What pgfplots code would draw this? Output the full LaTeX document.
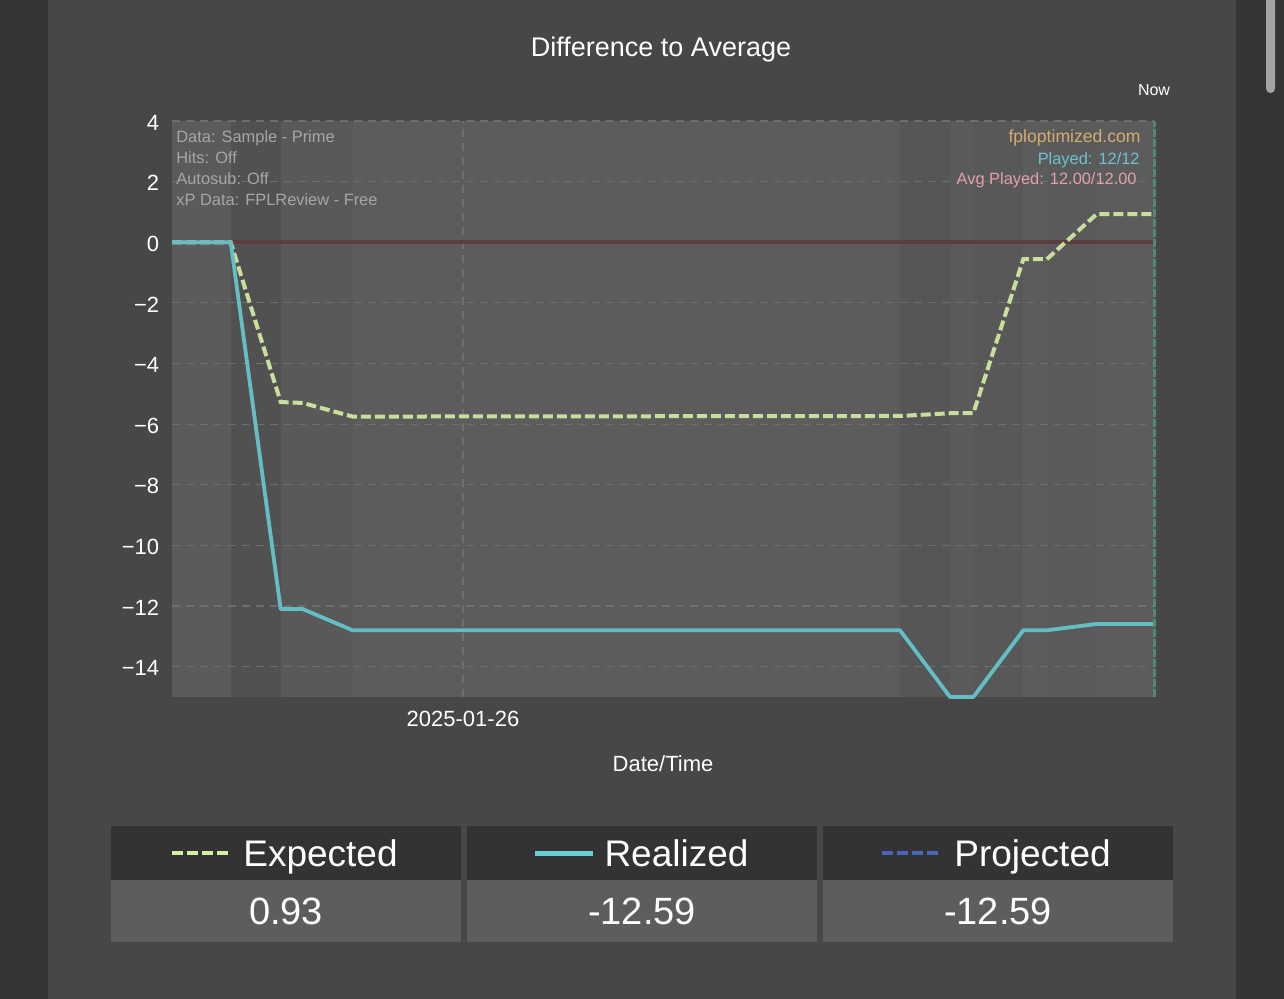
\documentclass[border=0pt]{standalone}
\usepackage{fontspec}
\setmainfont{Liberation Sans}
\usepackage{pgfplots}
\usepackage{pgfplotstable}
\pgfplotsset{compat=1.18}
\definecolor{outer}{HTML}{333436}
\definecolor{panel}{HTML}{474747}
\definecolor{plotbg}{HTML}{5B5B5B}
\definecolor{gridc}{HTML}{6E6E6E}
\definecolor{expc}{HTML}{C8DF9C}
\definecolor{realc}{HTML}{63BEC6}
\definecolor{zeroc}{HTML}{5E3D3F}
\definecolor{nowc}{HTML}{4E8A78}
\definecolor{hdr}{HTML}{333335}
\definecolor{valbg}{HTML}{5C5D5C}
\definecolor{annot}{HTML}{A6A6A6}
\definecolor{fplc}{HTML}{D6AC70}
\definecolor{playc}{HTML}{6CC4D2}
\definecolor{avgc}{HTML}{E2A1AA}
\definecolor{projc}{HTML}{4A64B6}
\definecolor{legexp}{HTML}{D2EFA2}
\definecolor{legreal}{HTML}{6ACFD6}
\definecolor{scroll}{HTML}{A3A3A3}
\definecolor{bA}{HTML}{515151}
\definecolor{bB}{HTML}{595959}
\definecolor{bC}{HTML}{5C5C5C}
\definecolor{bD}{HTML}{565656}
\definecolor{bE}{HTML}{5A5A5A}
\definecolor{bF}{HTML}{585858}

\pgfplotstableread{
x y
0 0
58.7 0
108.7 -5.27
130.7 -5.30
180.7 -5.75
728 -5.73
778 -5.64
801.3 -5.64
851.3 -0.56
874.7 -0.56
924.7 0.93
983 0.93
}\expected

\pgfplotstableread{
x y
0 0
58.7 0
108.7 -12.10
130.7 -12.10
180.7 -12.80
728 -12.80
778 -15.00
801.3 -15.00
851.3 -12.80
874.7 -12.80
924.7 -12.59
983 -12.59
}\realized

\begin{document}
\begin{tikzpicture}
\begin{scope}[x=0.5pt,y=-0.5pt]
\useasboundingbox (0,0) rectangle (1284,999);
\fill[outer] (0,0) rectangle (1284,999);
\fill[panel] (48,0) rectangle (1236,999);
\fill[scroll, rounded corners=2.2pt] (1266,-10) rectangle (1275,93);
% legend table
\fill[hdr] (111,826) rectangle (461,880);
\fill[valbg] (111,880) rectangle (461,942);
\fill[hdr] (467,826) rectangle (817,880);
\fill[valbg] (467,880) rectangle (817,942);
\fill[hdr] (823,826) rectangle (1173,880);
\fill[valbg] (823,880) rectangle (1173,942);
\draw[legexp, line width=2pt, dash pattern=on 5.5pt off 2pt] (172,853) -- (228,853);
\draw[legreal, line width=2.5pt] (535,853) -- (593,853);
\draw[projc, line width=2pt, dash pattern=on 5.5pt off 2pt] (882,853) -- (941,853);
\node[white, anchor=base, font=\fontsize{18.5}{22}\selectfont, inner sep=0pt] at (320.5,866) {Expected};
\node[white, anchor=base, font=\fontsize{18.5}{22}\selectfont, inner sep=0pt] at (676.5,866) {Realized};
\node[white, anchor=base, font=\fontsize{18.5}{22}\selectfont, inner sep=0pt] at (1032.5,866) {Projected};
\node[white, anchor=base, font=\fontsize{19}{22}\selectfont, inner sep=0pt] at (286,924) {0.93};
\node[white, anchor=base, font=\fontsize{19}{22}\selectfont, inner sep=0pt] at (642,924) {-12.59};
\node[white, anchor=base, font=\fontsize{19}{22}\selectfont, inner sep=0pt] at (998,924) {-12.59};
% titles
\node[white, anchor=base, font=\fontsize{13.5}{16}\selectfont, inner sep=0pt] at (661,57) {Difference to Average};
\node[white, anchor=base, font=\fontsize{8}{10}\selectfont, inner sep=0pt] at (1154,96) {Now};
\node[white, anchor=base, font=\fontsize{11}{13}\selectfont, inner sep=0pt] at (663,771) {Date/Time};
\end{scope}

\begin{axis}[
  at={(86pt,-348.5pt)}, anchor=south west,
  scale only axis, width=491.5pt, height=288pt,
  xmin=0, xmax=983, ymin=-15, ymax=4,
  axis line style={draw=none},
  major tick length=0pt,
  ytick={-14,-12,-10,-8,-6,-4,-2,0,2,4},
  yticklabels={−14,−12,−10,−8,−6,−4,−2,0,2,4},
  xtick={291}, xticklabels={2025-01-26},
  tick label style={white, font=\fontsize{11}{13}\selectfont},
  yticklabel style={xshift=-2.9pt, yshift=-0.8pt},
  xticklabel style={yshift=-3.6pt},
  axis background/.style={fill=plotbg},
  clip=false,
]
% vertical bands
\addplot[fill=bA, draw=none] coordinates {(58.7,-15)(58.7,4)(108.7,4)(108.7,-15)} -- cycle;
\addplot[fill=bB, draw=none] coordinates {(108.7,-15)(108.7,4)(180.7,4)(180.7,-15)} -- cycle;
\addplot[fill=bC, draw=none] coordinates {(180.7,-15)(180.7,4)(728,4)(728,-15)} -- cycle;
\addplot[fill=bD, draw=none] coordinates {(728,-15)(728,4)(778,4)(778,-15)} -- cycle;
\addplot[fill=bE, draw=none] coordinates {(778,-15)(778,4)(801.3,4)(801.3,-15)} -- cycle;
\addplot[fill=bF, draw=none] coordinates {(801.3,-15)(801.3,4)(851.3,4)(851.3,-15)} -- cycle;
\addplot[fill=bC, draw=none] coordinates {(851.3,-15)(851.3,4)(874.7,4)(874.7,-15)} -- cycle;
\addplot[fill=bE, draw=none] coordinates {(874.7,-15)(874.7,4)(924.7,4)(924.7,-15)} -- cycle;
\addplot[fill=bC, draw=none] coordinates {(924.7,-15)(924.7,4)(983,4)(983,-15)} -- cycle;
% grid
\addplot[gridc, line width=0.6pt, dash pattern=on 4pt off 3pt] coordinates {(0,-14)(982,-14)};
\addplot[gridc, line width=0.6pt, dash pattern=on 4pt off 3pt] coordinates {(0,-12)(982,-12)};
\addplot[gridc, line width=0.6pt, dash pattern=on 4pt off 3pt] coordinates {(0,-10)(982,-10)};
\addplot[gridc, line width=0.6pt, dash pattern=on 4pt off 3pt] coordinates {(0,-8)(982,-8)};
\addplot[gridc, line width=0.6pt, dash pattern=on 4pt off 3pt] coordinates {(0,-6)(982,-6)};
\addplot[gridc, line width=0.6pt, dash pattern=on 4pt off 3pt] coordinates {(0,-4)(982,-4)};
\addplot[gridc, line width=0.6pt, dash pattern=on 4pt off 3pt] coordinates {(0,-2)(982,-2)};
\addplot[gridc, line width=0.6pt, dash pattern=on 4pt off 3pt] coordinates {(0,0)(982,0)};
\addplot[gridc, line width=0.6pt, dash pattern=on 4pt off 3pt] coordinates {(0,2)(982,2)};
\addplot[gridc, line width=0.6pt, dash pattern=on 4pt off 3pt] coordinates {(0,4)(982,4)};
\addplot[gridc, line width=0.6pt, dash pattern=on 4pt off 3pt] coordinates {(291,-15)(291,4)};
% zero line
\addplot[zeroc, line width=2pt] coordinates {(58.7,0)(981,0)};
% data
\addplot[expc, line width=2pt, dash pattern=on 5pt off 2pt] table[x=x,y=y] {\expected};
\addplot[realc, line width=1.9pt, line join=round] table[x=x,y=y] {\realized};
% now line
\addplot[nowc, line width=1.5pt, dash pattern=on 4pt off 1pt] coordinates {(982,-15)(982,4)};
\end{axis}

\begin{scope}[x=0.5pt,y=-0.5pt]
\node[annot, anchor=base west, font=\fontsize{8.2}{10}\selectfont, inner sep=0pt] at (176,142.7) {Data: Sample - Prime};
\node[annot, anchor=base west, font=\fontsize{8.2}{10}\selectfont, inner sep=0pt] at (176,163.5) {Hits: Off};
\node[annot, anchor=base west, font=\fontsize{8.2}{10}\selectfont, inner sep=0pt] at (176,184.5) {Autosub: Off};
\node[annot, anchor=base west, font=\fontsize{8.2}{10}\selectfont, inner sep=0pt] at (176,206) {xP Data: FPLReview - Free};
\node[fplc, anchor=base east, font=\fontsize{8.8}{10}\selectfont, inner sep=0pt] at (1141,142.7) {fploptimized.com};
\node[playc, anchor=base east, font=\fontsize{8.2}{10}\selectfont, inner sep=0pt] at (1140,164.3) {Played: 12/12};
\node[avgc, anchor=base east, font=\fontsize{8.2}{10}\selectfont, inner sep=0pt] at (1137,185) {Avg Played: 12.00/12.00};
\end{scope}
\end{tikzpicture}
\end{document}
